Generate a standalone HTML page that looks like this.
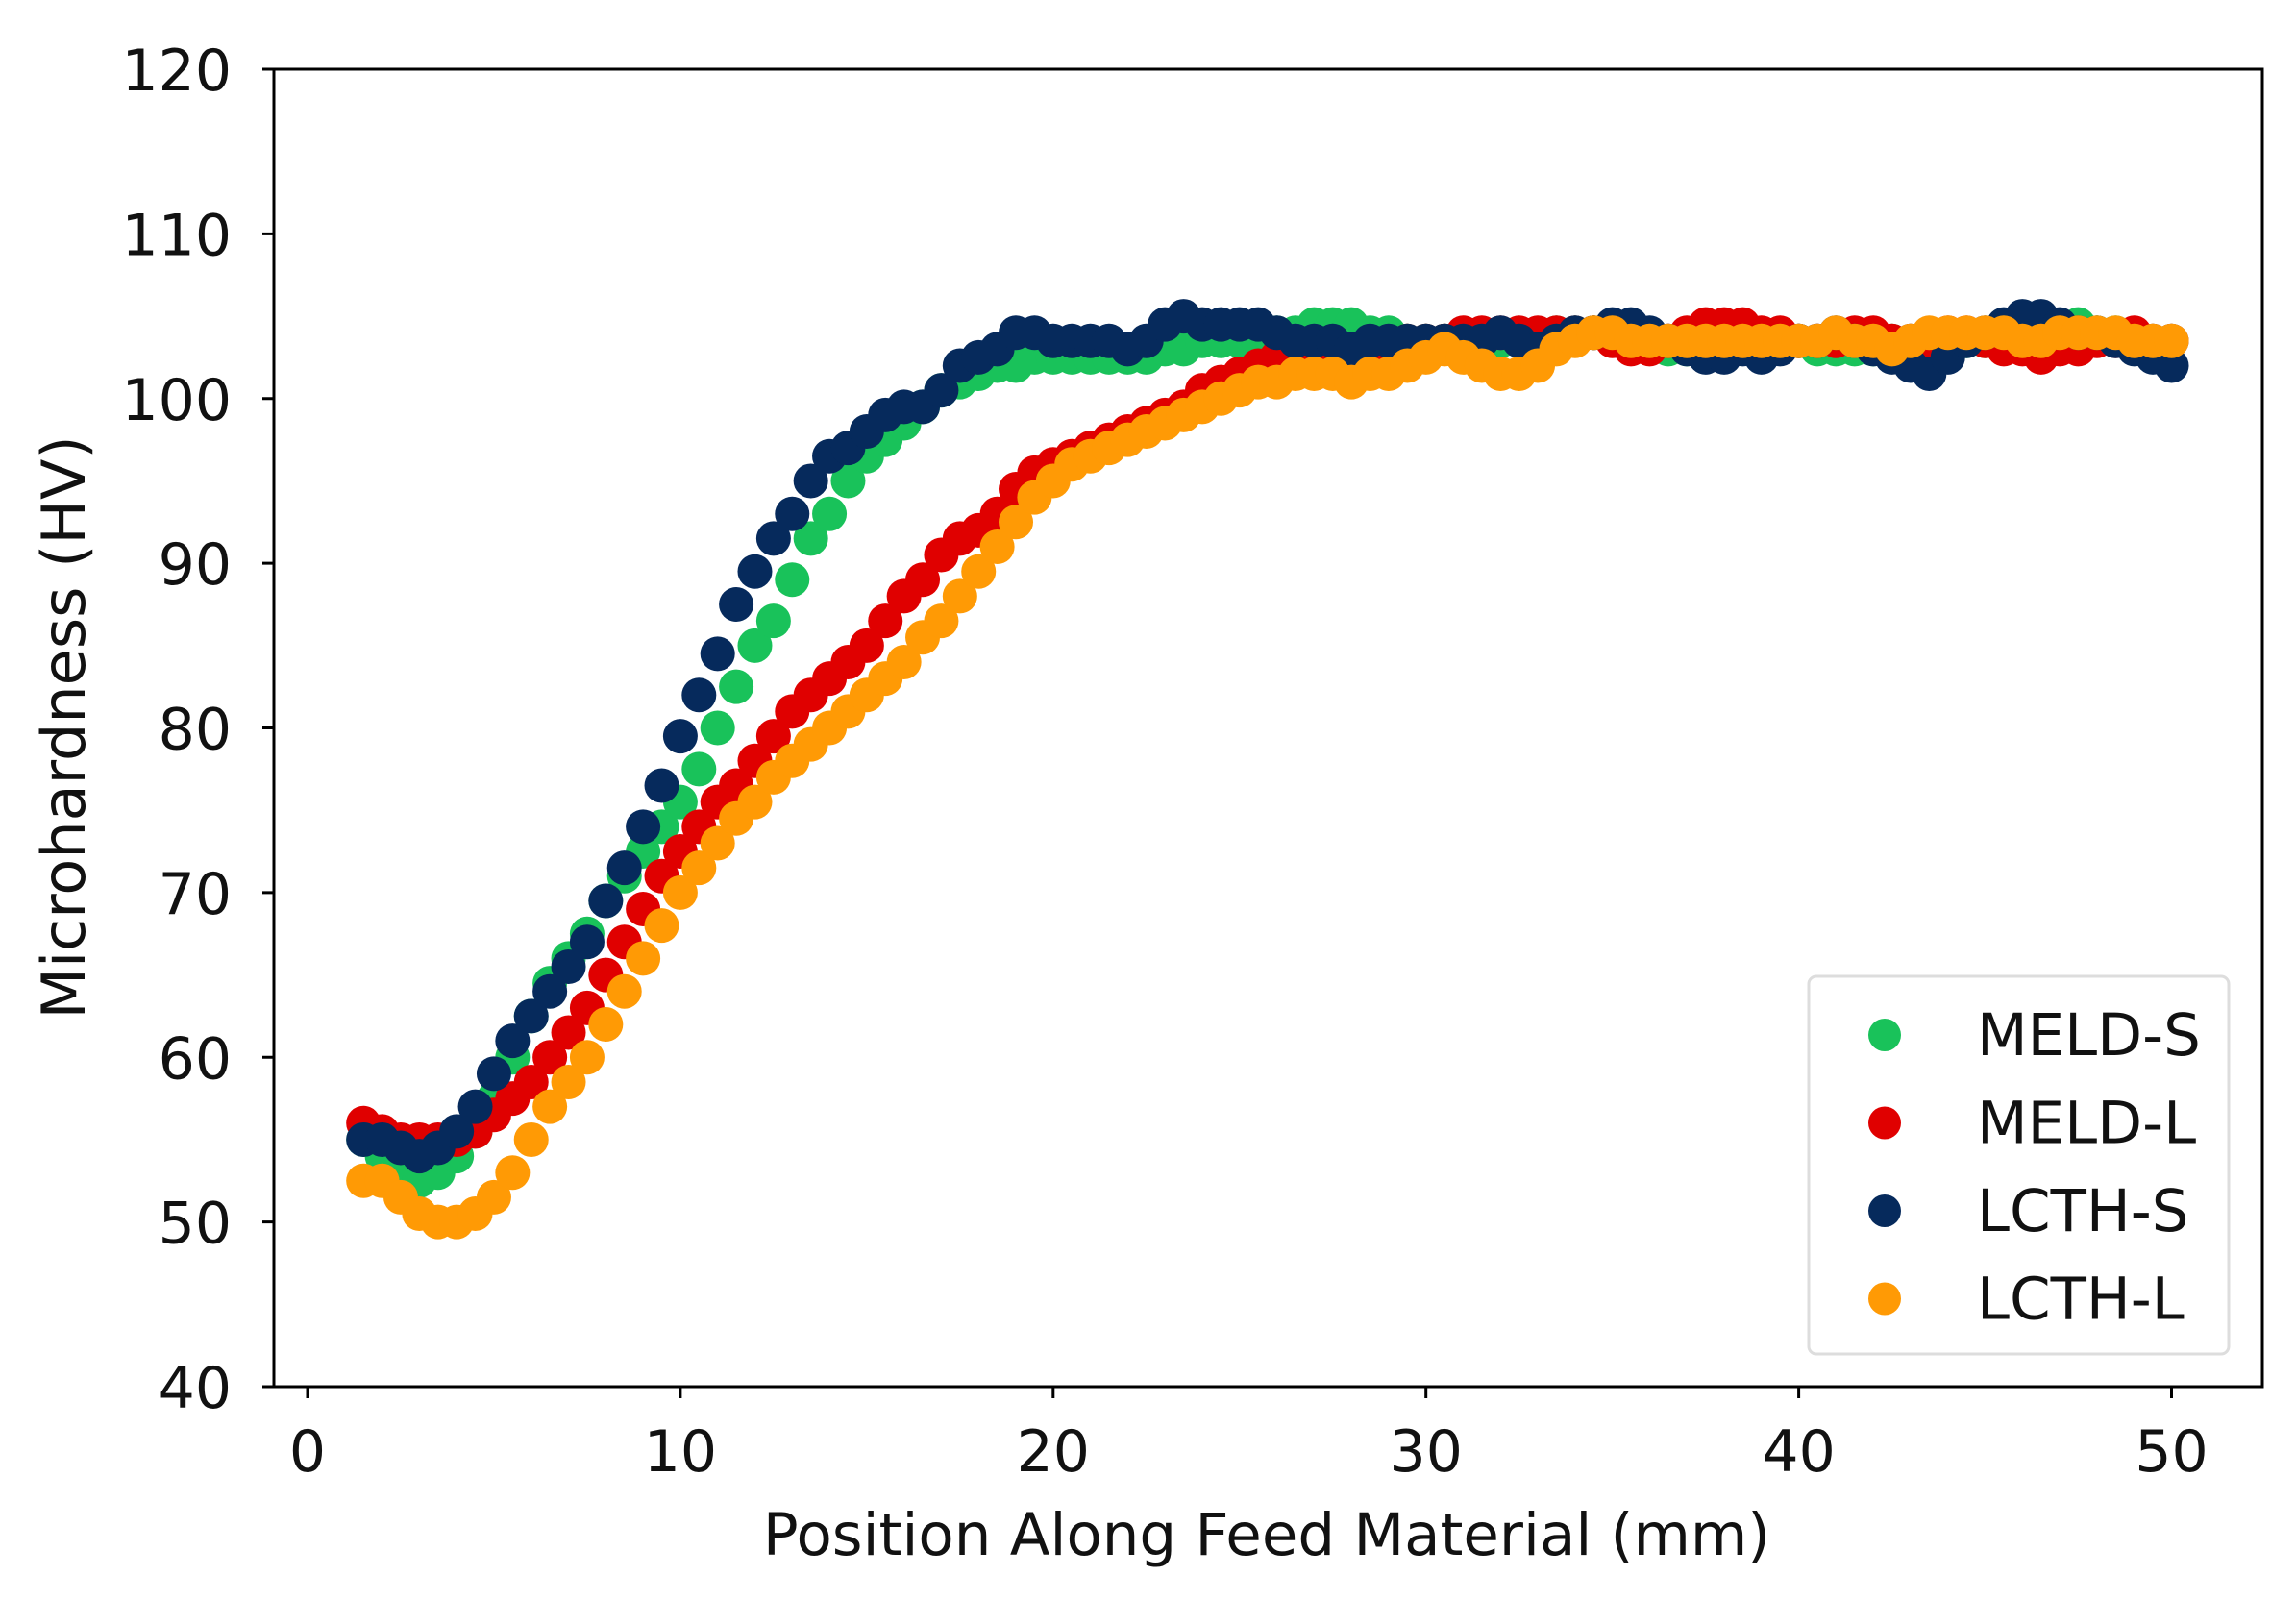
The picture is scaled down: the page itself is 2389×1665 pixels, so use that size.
<!DOCTYPE html>
<html><head><meta charset="utf-8"><style>
html,body{margin:0;padding:0;background:#fff;}
svg{display:block;font-family:"DejaVu Sans","Liberation Sans",sans-serif;}
</style></head><body>
<svg id="chart" width="2389" height="1665" viewBox="0 0 2389 1665" xmlns="http://www.w3.org/2000/svg">
<rect width="2389" height="1665" fill="#fff"/>
<g id="marks"></g>
<g id="axes"></g>
<text x="1318" y="1618" font-size="61" text-anchor="middle" fill="#111">Position Along Feed Material (mm)</text>
<text transform="translate(88,757) rotate(-90)" font-size="62" text-anchor="middle" fill="#111">Microhardness (HV)</text>
<g>
<rect x="1882" y="1016" width="437" height="393" rx="8" fill="#fff" stroke="#ddd" stroke-width="3"/>
</g>
<g id="legend-entries"></g>
</svg>
<script>
const positions=[1.5,2,2.5,3,3.5,4,4.5,5,5.5,6,6.5,7,7.5,8,8.5,9,9.5,10,10.5,11,11.5,12,12.5,13,13.5,14,14.5,15,15.5,16,16.5,17,17.5,18,18.5,19,19.5,20,20.5,21,21.5,22,22.5,23,23.5,24,24.5,25,25.5,26,26.5,27,27.5,28,28.5,29,29.5,30,30.5,31,31.5,32,32.5,33,33.5,34,34.5,35,35.5,36,36.5,37,37.5,38,38.5,39,39.5,40,40.5,41,41.5,42,42.5,43,43.5,44,44.5,45,45.5,46,46.5,47,47.5,48,48.5,49,49.5,50];
const meldS=[55,54,53,52.5,53,54,55.5,57.5,60,62.5,64.5,66,67.5,69.5,71,72.5,74,75.5,77.5,80,82.5,85,86.5,89,91.5,93,95,96.5,97.5,98.5,99.5,100.5,101,101.5,102,102,102.5,102.5,102.5,102.5,102.5,102.5,102.5,103,103,103.5,103.5,103.5,103.5,104,104,104.5,104.5,104.5,104,104,103.5,103.5,103.5,103.5,103.5,103.5,103.5,103.5,104,104,104,104,103.5,103.5,103,103,103,103.5,103.5,103.5,103.5,103.5,103,103,103,103,103.5,103.5,103.5,103.5,103.5,103.5,104,104,104,104,104.5,104,104,103.5,103.5,103.5];
const meldL=[56,55.5,55,55,55,55,55.5,56.5,57.5,58.5,60,61.5,63,65,67,69,71,72.5,74,75.5,76.5,78,79.5,81,82,83,84,85,86.5,88,89,90.5,91.5,92,93,94.5,95.5,96,96.5,97,97.5,98,98.5,99,99.5,100.5,101,101.5,102,102.5,102.5,103,103,103,103,103,103.5,103.5,103.5,104,104,104,104,104,104,104,104,103.5,103,103,103.5,104,104.5,104.5,104.5,104,104,103.5,103.5,103.5,104,104,103.5,103.5,103.5,104,104,103.5,103,103,102.5,103,103,103.5,103.5,104,103.5,103.5];
const lcthS=[55,55,54.5,54,54.5,55.5,57,59,61,62.5,64,65.5,67,69.5,71.5,74,76.5,79.5,82,84.5,87.5,89.5,91.5,93,95,96.5,97,98,99,99.5,99.5,100.5,102,102.5,103,104,104,103.5,103.5,103.5,103.5,103,103.5,104.5,105,104.5,104.5,104.5,104.5,104,103.5,103.5,103.5,103,103.5,103.5,103.5,103.5,103.5,103.5,103.5,104,103.5,103,103.5,104,104,104.5,104.5,104,103.5,103,102.5,102.5,103,102.5,103,103.5,103.5,104,103.5,103,102.5,102,101.5,102.5,103.5,104,104.5,105,105,104.5,104,104,103.5,103,102.5,102];
const lcthL=[52.5,52.5,51.5,50.5,50,50,50.5,51.5,53,55,57,58.5,60,62,64,66,68,70,71.5,73,74.5,75.5,77,78,79,80,81,82,83,84,85.5,86.5,88,89.5,91,92.5,94,95,96,96.5,97,97.5,98,98.5,99,99.5,100,100.5,101,101,101.5,101.5,101.5,101,101.5,101.5,102,102.5,103,102.5,102,101.5,101.5,102,103,103.5,104,104,103.5,103.5,103.5,103.5,103.5,103.5,103.5,103.5,103.5,103.5,103.5,104,103.5,103.5,103,103.5,104,104,104,104,104,103.5,103.5,104,104,104,104,103.5,103.5,103.5];
const seriesNames=["MELD-S","MELD-L","LCTH-S","LCTH-L"];
const seriesColors=["#19c25a","#e00000","#062a5c","#ff9a05"];
const xTicks=[0,10,20,30,40,50];
const yTicks=[40,50,60,70,80,90,100,110,120];

const L=285,R=2354,T=72,B=1443;
const sx=v=>320+(v-0)*(2259.5-320)/50;
const sy=v=>B-(v-40)*(B-T)/80;
const NS="http://www.w3.org/2000/svg";
function mk(tag,attrs,parent){const e=document.createElementNS(NS,tag);for(const k in attrs)e.setAttribute(k,attrs[k]);parent.appendChild(e);return e;}
const marks=document.getElementById('marks');
const all=[meldS,meldL,lcthS,lcthL];
all.forEach((vals,si)=>{
  const g=mk('g',{},marks);
  
  
  vals.forEach((v,i)=>{
    const c=mk('circle',{cx:sx(positions[i]),cy:sy(v),r:18,fill:seriesColors[si]},g);
    
    
  });
});
const axes=document.getElementById('axes');
const frame=mk('rect',{x:L,y:T,width:R-L,height:B-T,fill:'none',stroke:'#000','stroke-width':3},axes);


xTicks.forEach(t=>{
  const x=sx(t);
  const ln=mk('line',{x1:x,x2:x,y1:B,y2:B+12,stroke:'#000','stroke-width':3},axes);
  
  
  const tx=mk('text',{x:x,y:B+88,'font-size':60,'text-anchor':'middle',fill:'#111'},axes);
  tx.textContent=t;
  
  
});
yTicks.forEach(t=>{
  const y=sy(t);
  const ln=mk('line',{x1:L-12,x2:L,y1:y,y2:y,stroke:'#000','stroke-width':3},axes);
  
  
  const tx=mk('text',{x:241,y:y+22,'font-size':60,'text-anchor':'end',fill:'#111'},axes);
  tx.textContent=t;
  
  
});
const leg=document.getElementById('legend-entries');
seriesNames.forEach((n,i)=>{
  const y=1077+i*91.5;
  const g=mk('g',{},leg);
  
  
  const c=mk('circle',{cx:1961,cy:y,r:17,fill:seriesColors[i]},g);
  
  
  const t=mk('text',{x:2057,y:y+21,'font-size':61,fill:'#111'},g);
  t.textContent=n;
  
  
});
</script>
</body></html>
